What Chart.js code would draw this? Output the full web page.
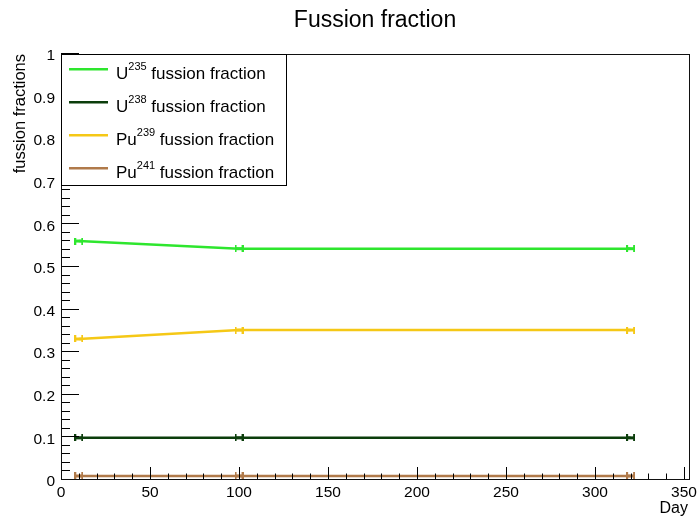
<!DOCTYPE html>
<html>
<head>
<meta charset="utf-8">
<script src="https://cdn.jsdelivr.net/npm/chart.js@4.4.1/dist/chart.umd.min.js"></script>
<style>
  html, body { margin: 0; padding: 0; background: #fff; }
  #wrap { width: 700px; height: 517px; }
</style>
</head>
<body>
<div id="wrap"><canvas id="fractionChart" width="700" height="517"></canvas></div>
<script>
// values
const days = [10, 100, 320];
const u235 = [0.561, 0.543, 0.543];
const u238 = [0.099, 0.099, 0.099];
const pu239 = [0.331, 0.352, 0.352];
const pu241 = [0.0095, 0.0095, 0.0095];

const isotopes = ['U', 'U', 'Pu', 'Pu'];
const massNumbers = ['235', '238', '239', '241'];
const seriesColors = ['#2ee62e', '#0b3d0b', '#f5c816', '#b07a4a'];

const chartTitle = 'Fussion fraction';
const xTitle = 'Day';
const yTitle = 'fussion fractions';

const xMax = 352.8;
const xLastTick = 350;
const xMajorStep = 50;
const xMinorStep = 10;
const yMajorStep = 0.1;
const yMinorStep = 0.02;

const FONT = "'Liberation Sans', Arial, Helvetica, sans-serif";

// small |-| error-bar style marker
const makeMarker = (color) => {
  const c = document.createElement('canvas');
  c.width = 9;
  c.height = 7;
  const g = c.getContext('2d');
  g.fillStyle = color;
  g.fillRect(0, 2, 9, 3);
  g.fillRect(0, 0, 2, 7);
  g.fillRect(7, 0, 2, 7);
  return c;
};

const toPoints = (values) => days.map((d, i) => ({ x: d, y: values[i] }));
const seriesValues = [u235, u238, pu239, pu241];

const rootStyle = {
  id: 'rootStyle',
  afterDraw(chart) {
    const { ctx, chartArea: a, scales: { x, y } } = chart;
    ctx.save();

    // tick marks inside the frame
    ctx.strokeStyle = '#000';
    ctx.lineWidth = 1;
    ctx.beginPath();
    for (let i = 0; i * xMinorStep <= xLastTick; i++) {
      const v = i * xMinorStep;
      const px = Math.round(x.getPixelForValue(v)) + 0.5;
      const len = (v % xMajorStep === 0) ? 13 : 6.5;
      ctx.moveTo(px, a.bottom);
      ctx.lineTo(px, a.bottom - len);
    }
    const perMajor = Math.round(yMajorStep / yMinorStep);
    for (let i = 0; i <= Math.round(1 / yMinorStep); i++) {
      const py = Math.round(y.getPixelForValue(i * yMinorStep)) - 0.5;
      const len = (i % perMajor === 0) ? 18 : 9;
      ctx.moveTo(a.left, py);
      ctx.lineTo(a.left + len, py);
    }
    ctx.stroke();

    // frame
    ctx.strokeStyle = '#111';
    ctx.strokeRect(a.left + 0.5, a.top + 0.5, a.right - a.left, a.bottom - a.top - 1);

    // legend box
    const lx = a.left + 0.5;
    const ly = a.top + 0.5;
    ctx.fillStyle = '#fff';
    ctx.fillRect(lx, ly, 225, 131);
    ctx.strokeStyle = '#000';
    ctx.strokeRect(lx, ly, 225, 131);

    chart.data.datasets.forEach((ds, i) => {
      const lineY = a.top + 15.3 + i * 33;
      ctx.strokeStyle = ds.borderColor;
      ctx.lineWidth = 2.5;
      ctx.beginPath();
      ctx.moveTo(a.left + 8, lineY);
      ctx.lineTo(a.left + 47, lineY);
      ctx.stroke();

      const base = lineY + 10;
      let tx = a.left + 55;
      ctx.fillStyle = '#000';
      ctx.textAlign = 'left';
      ctx.textBaseline = 'alphabetic';
      ctx.font = `17px ${FONT}`;
      ctx.fillText(isotopes[i], tx, base);
      tx += ctx.measureText(isotopes[i]).width;
      ctx.font = `11px ${FONT}`;
      ctx.fillText(massNumbers[i], tx, base - 9.5);
      tx += ctx.measureText(massNumbers[i]).width;
      ctx.font = `17px ${FONT}`;
      ctx.fillText(' fussion fraction', tx, base);
    });

    // titles
    ctx.fillStyle = '#000';
    ctx.font = `23px ${FONT}`;
    ctx.textAlign = 'center';
    ctx.fillText(chartTitle, (a.left + a.right) / 2, 27);

    ctx.font = `16px ${FONT}`;
    ctx.textAlign = 'right';
    ctx.fillText(xTitle, 688, 513);

    ctx.save();
    ctx.translate(24.5, a.top);
    ctx.rotate(-Math.PI / 2);
    ctx.font = `16.5px ${FONT}`;
    ctx.textAlign = 'right';
    ctx.fillText(yTitle, 0, 0);
    ctx.restore();

    ctx.restore();
  },
};

const ctx = document.getElementById('fractionChart').getContext('2d');
new Chart(ctx, {
  type: 'line',
  data: {
    datasets: seriesValues.map((values, i) => ({
      label: `${isotopes[i]}${massNumbers[i]} fussion fraction`,
      data: toPoints(values),
      borderColor: seriesColors[i],
      backgroundColor: seriesColors[i],
      borderWidth: 2.5,
      pointStyle: makeMarker(seriesColors[i]),
      pointRadius: 4,
      tension: 0,
      fill: false,
    })),
  },
  options: {
    responsive: false,
    animation: false,
    devicePixelRatio: 1,
    layout: { padding: { top: 54, right: 11, left: 0, bottom: 0 } },
    plugins: {
      legend: { display: false },
      title: { display: false },
      tooltip: { enabled: false },
    },
    scales: {
      x: {
        type: 'linear',
        min: 0,
        max: xMax,
        grid: { display: false, drawTicks: false },
        border: { display: false },
        afterFit: (s) => { s.height = 37; s.paddingLeft = 0; s.paddingRight = 0; },
        ticks: {
          stepSize: xMajorStep,
          includeBounds: false,
          autoSkip: false,
          maxRotation: 0,
          padding: 3,
          color: '#000',
          font: { family: FONT, size: 15.5 },
        },
      },
      y: {
        min: 0,
        max: 1,
        grid: { display: false, drawTicks: false },
        border: { display: false },
        afterFit: (s) => { s.width = 61; s.paddingTop = 0; s.paddingBottom = 0; },
        ticks: {
          stepSize: yMajorStep,
          padding: 6,
          labelOffset: 2,
          color: '#000',
          font: { family: FONT, size: 15.5 },
          callback: (v) => String(+Number(v).toFixed(2)),
        },
      },
    },
  },
  plugins: [rootStyle],
});
</script>
</body>
</html>
